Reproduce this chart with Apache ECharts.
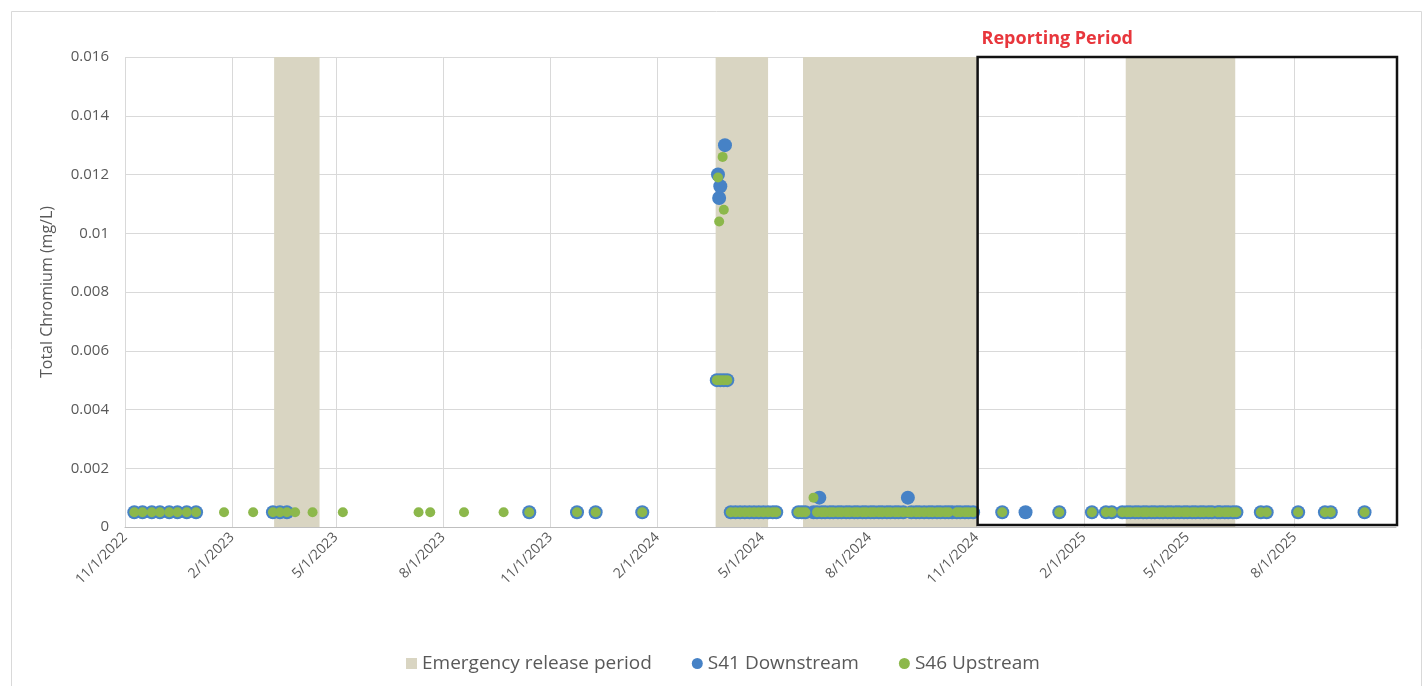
<!DOCTYPE html>
<html>
<head>
<meta charset="utf-8">
<script src="https://cdn.jsdelivr.net/npm/echarts@6/dist/echarts.min.js"></script>
<style>html,body{margin:0;padding:0;background:#fff;}#c{width:1422px;height:686px;}</style>
</head>
<body>
<div id="c"></div>
<script>
// ---------- DATA ----------
const xMin = '2022-11-01';
const xMax = '2025-10-27';
const xTicks = ['2022-11-01','2023-02-01','2023-05-01','2023-08-01','2023-11-01','2024-02-01','2024-05-01','2024-08-01','2024-11-01','2025-02-01','2025-05-01','2025-08-01'];
const yTicks = [0, 0.002, 0.004, 0.006, 0.008, 0.01, 0.012, 0.014, 0.016];
const emergencyPeriods = [
  ['2023-03-09','2023-04-17'],
  ['2024-03-22','2024-05-06'],
  ['2024-06-05','2024-11-01'],
  ['2025-03-09','2025-06-11']
];
const reportingPeriod = ['2024-11-01', '2025-10-27'];

const s41Downstream = [
  ['2022-11-09',0.0005],['2022-11-16',0.0005],['2022-11-24',0.0005],['2022-12-01',0.0005],
  ['2022-12-09',0.0005],['2022-12-16',0.0005],['2022-12-24',0.0005],['2023-01-01',0.0005],
  ['2023-03-08',0.0005],['2023-03-14',0.0005],['2023-03-20',0.0005],
  ['2023-10-14',0.0005],['2023-11-24',0.0005],['2023-12-10',0.0005],['2024-01-19',0.0005],
  ['2024-03-24',0.0120],['2024-03-25',0.0112],['2024-03-26',0.0116],['2024-03-30',0.0130],
  ['2024-03-23',0.005],['2024-03-26',0.005],['2024-03-29',0.005],['2024-04-01',0.005],
  ['2024-04-04',0.0005],['2024-04-08',0.0005],['2024-04-12',0.0005],['2024-04-16',0.0005],
  ['2024-04-20',0.0005],['2024-04-24',0.0005],['2024-04-28',0.0005],['2024-05-02',0.0005],
  ['2024-05-06',0.0005],['2024-05-10',0.0005],['2024-05-13',0.0005],
  ['2024-06-01',0.0005],['2024-06-04',0.0005],['2024-06-07',0.0005],
  ['2024-06-14',0.0005],['2024-06-17',0.0005],['2024-06-19',0.001],['2024-06-21',0.0005],
  ['2024-06-24',0.0005],['2024-06-28',0.0005],['2024-07-01',0.0005],['2024-07-05',0.0005],
  ['2024-07-08',0.0005],['2024-07-12',0.0005],['2024-07-15',0.0005],['2024-07-19',0.0005],
  ['2024-07-22',0.0005],['2024-07-26',0.0005],['2024-07-29',0.0005],['2024-08-02',0.0005],
  ['2024-08-05',0.0005],['2024-08-09',0.0005],['2024-08-12',0.0005],['2024-08-16',0.0005],
  ['2024-08-19',0.0005],['2024-08-23',0.0005],['2024-08-26',0.0005],['2024-08-30',0.0005],
  ['2024-09-03',0.001],['2024-09-06',0.0005],['2024-09-10',0.0005],['2024-09-13',0.0005],
  ['2024-09-17',0.0005],
  ['2024-09-21',0.0005],['2024-09-24',0.0005],['2024-09-28',0.0005],['2024-10-01',0.0005],
  ['2024-10-05',0.0005],['2024-10-08',0.0005],['2024-10-11',0.0005],
  ['2024-10-15',0.0005],['2024-10-18',0.0005],['2024-10-22',0.0005],['2024-10-25',0.0005],
  ['2024-10-29',0.0005],
  ['2024-11-23',0.0005],['2024-12-13',0.0005],['2025-01-11',0.0005],['2025-02-08',0.0005],
  ['2025-02-20',0.0005],['2025-02-25',0.0005],
  ['2025-03-06',0.0005],['2025-03-10',0.0005],['2025-03-13',0.0005],['2025-03-17',0.0005],
  ['2025-03-20',0.0005],['2025-03-24',0.0005],['2025-03-27',0.0005],['2025-03-31',0.0005],
  ['2025-04-03',0.0005],['2025-04-07',0.0005],['2025-04-10',0.0005],['2025-04-14',0.0005],
  ['2025-04-17',0.0005],['2025-04-21',0.0005],['2025-04-24',0.0005],['2025-04-28',0.0005],
  ['2025-05-01',0.0005],['2025-05-05',0.0005],['2025-05-08',0.0005],['2025-05-12',0.0005],
  ['2025-05-15',0.0005],['2025-05-19',0.0005],['2025-05-22',0.0005],['2025-05-27',0.0005],
  ['2025-05-29',0.0005],['2025-06-02',0.0005],['2025-06-05',0.0005],['2025-06-09',0.0005],
  ['2025-06-12',0.0005],
  ['2025-07-03',0.0005],['2025-07-08',0.0005],['2025-08-04',0.0005],['2025-08-27',0.0005],
  ['2025-09-01',0.0005],['2025-09-30',0.0005]
];

const s46Upstream = [
  ['2022-11-09',0.0005],['2022-11-16',0.0005],['2022-11-24',0.0005],['2022-12-01',0.0005],
  ['2022-12-09',0.0005],['2022-12-16',0.0005],['2022-12-24',0.0005],['2023-01-01',0.0005],
  ['2023-01-25',0.0005],['2023-02-19',0.0005],
  ['2023-03-08',0.0005],['2023-03-14',0.0005],['2023-03-20',0.0005],['2023-03-27',0.0005],
  ['2023-04-11',0.0005],['2023-05-07',0.0005],
  ['2023-07-11',0.0005],['2023-07-21',0.0005],['2023-08-19',0.0005],['2023-09-22',0.0005],
  ['2023-10-14',0.0005],['2023-11-24',0.0005],['2023-12-10',0.0005],['2024-01-19',0.0005],
  ['2024-03-24',0.0119],['2024-03-25',0.0104],['2024-03-28',0.0126],['2024-03-29',0.0108],
  ['2024-03-23',0.005],['2024-03-26',0.005],['2024-03-29',0.005],['2024-04-01',0.005],
  ['2024-04-04',0.0005],['2024-04-08',0.0005],['2024-04-12',0.0005],['2024-04-16',0.0005],
  ['2024-04-20',0.0005],['2024-04-24',0.0005],['2024-04-28',0.0005],['2024-05-02',0.0005],
  ['2024-05-06',0.0005],['2024-05-10',0.0005],['2024-05-13',0.0005],
  ['2024-06-01',0.0005],['2024-06-04',0.0005],['2024-06-07',0.0005],
  ['2024-06-14',0.001],['2024-06-17',0.0005],['2024-06-21',0.0005],
  ['2024-06-24',0.0005],['2024-06-28',0.0005],['2024-07-01',0.0005],['2024-07-05',0.0005],
  ['2024-07-08',0.0005],['2024-07-12',0.0005],['2024-07-15',0.0005],['2024-07-19',0.0005],
  ['2024-07-22',0.0005],['2024-07-26',0.0005],['2024-07-29',0.0005],['2024-08-02',0.0005],
  ['2024-08-05',0.0005],['2024-08-09',0.0005],['2024-08-12',0.0005],['2024-08-16',0.0005],
  ['2024-08-19',0.0005],['2024-08-23',0.0005],['2024-08-26',0.0005],['2024-08-30',0.0005],
  ['2024-09-03',0.0005],['2024-09-06',0.0005],['2024-09-10',0.0005],['2024-09-13',0.0005],
  ['2024-09-17',0.0005],
  ['2024-09-21',0.0005],['2024-09-24',0.0005],['2024-09-28',0.0005],['2024-10-01',0.0005],
  ['2024-10-05',0.0005],['2024-10-08',0.0005],
  ['2024-10-15',0.0005],['2024-10-18',0.0005],['2024-10-22',0.0005],['2024-10-25',0.0005],
  ['2024-10-29',0.0005],
  ['2024-11-23',0.0005],['2025-01-11',0.0005],['2025-02-08',0.0005],
  ['2025-02-20',0.0005],['2025-02-25',0.0005],
  ['2025-03-06',0.0005],['2025-03-10',0.0005],['2025-03-13',0.0005],['2025-03-17',0.0005],
  ['2025-03-20',0.0005],['2025-03-24',0.0005],['2025-03-27',0.0005],['2025-03-31',0.0005],
  ['2025-04-03',0.0005],['2025-04-07',0.0005],['2025-04-10',0.0005],['2025-04-14',0.0005],
  ['2025-04-17',0.0005],['2025-04-21',0.0005],['2025-04-24',0.0005],['2025-04-28',0.0005],
  ['2025-05-01',0.0005],['2025-05-05',0.0005],['2025-05-08',0.0005],['2025-05-12',0.0005],
  ['2025-05-15',0.0005],['2025-05-19',0.0005],['2025-05-22',0.0005],['2025-05-27',0.0005],
  ['2025-05-29',0.0005],['2025-06-02',0.0005],['2025-06-05',0.0005],['2025-06-09',0.0005],
  ['2025-06-12',0.0005],
  ['2025-07-03',0.0005],['2025-07-08',0.0005],['2025-08-04',0.0005],['2025-08-27',0.0005],
  ['2025-09-01',0.0005],['2025-09-30',0.0005]
];

// ---------- HELPERS ----------
function d(s) { const p = s.split('-').map(Number); return Date.UTC(p[0], p[1] - 1, p[2]); }
function fmtDate(v) { const t = new Date(v); return (t.getUTCMonth() + 1) + '/' + t.getUTCDate() + '/' + t.getUTCFullYear(); }
const yMax = yTicks[yTicks.length - 1];
const FONT = '"Open Sans", "Liberation Sans", sans-serif';
const GREY = '#595959';
const BEIGE = '#d9d5c2';
const BLUE = '#4682c6';
const GREEN = '#8cb84b';

const chart = echarts.init(document.getElementById('c'), null, { renderer: 'canvas' });
chart.setOption({
  animation: false,
  backgroundColor: '#ffffff',
  textStyle: { fontFamily: FONT },
  graphic: [{
    type: 'rect', left: 9, top: 9, shape: { width: 1410, height: 680 },
    style: { fill: 'none', stroke: '#d9d9d9', lineWidth: 1 }, silent: true
  }],
  grid: { left: 125, right: 26, top: 57, bottom: 159, containLabel: false },
  legend: {
    left: 401, top: 649, selectedMode: false,
    itemWidth: 11, itemHeight: 11, itemGap: 40,
    textStyle: { color: GREY, fontSize: 19, fontFamily: FONT },
    data: [
      { name: 'Emergency release period', icon: 'rect' },
      { name: 'S41 Downstream', icon: 'circle' },
      { name: 'S46 Upstream', icon: 'circle' }
    ]
  },
  xAxis: {
    type: 'value',
    min: d(xMin), max: d(xMax),
    axisLine: { show: true, lineStyle: { color: '#bfbfbf', width: 1 } },
    axisTick: { show: false, customValues: xTicks.map(d) },
    axisLabel: {
      customValues: xTicks.map(d), rotate: 45, color: GREY, fontSize: 14, fontFamily: FONT,
      margin: 8, formatter: fmtDate, hideOverlap: false
    },
    splitLine: { show: true, lineStyle: { color: '#d9d9d9', width: 1 } }
  },
  yAxis: {
    type: 'value', min: 0, max: yMax, interval: 0.002,
    name: 'Total Chromium (mg/L)', nameLocation: 'middle', nameGap: 70,
    nameTextStyle: { color: GREY, fontSize: 16, fontFamily: FONT },
    axisLine: { show: false }, axisTick: { show: false },
    axisLabel: { color: GREY, fontSize: 15, fontFamily: FONT, margin: 16,
      formatter: v => String(+v.toFixed(4)) },
    splitLine: { show: true, lineStyle: { color: '#d9d9d9', width: 1 } }
  },
  series: [
    {
      name: 'Emergency release period', type: 'custom', z: 1,
      itemStyle: { color: BEIGE },
      encode: { x: [0, 1] },
      data: emergencyPeriods.map(p => [d(p[0]), d(p[1])]),
      renderItem: function (params, api) {
        const a = api.coord([api.value(0), yMax]);
        const b = api.coord([api.value(1), 0]);
        return { type: 'rect', shape: { x: a[0], y: a[1], width: b[0] - a[0], height: b[1] - a[1] },
                 style: { fill: BEIGE } };
      }
    },
    {
      name: 'S41 Downstream', type: 'scatter', z: 3,
      symbol: 'circle', symbolSize: 14,
      itemStyle: { color: BLUE, opacity: 1 },
      data: s41Downstream.map(p => [d(p[0]), p[1]])
    },
    {
      name: 'S46 Upstream', type: 'scatter', z: 4,
      symbol: 'circle', symbolSize: 10,
      itemStyle: { color: GREEN, opacity: 1 },
      data: s46Upstream.map(p => [d(p[0]), p[1]])
    },
    {
      name: 'Reporting Period', type: 'custom', z: 5, clip: false,
      encode: { x: [0, 1] },
      data: [[d(reportingPeriod[0]), d(reportingPeriod[1])]],
      renderItem: function (params, api) {
        const a = api.coord([api.value(0), yMax]);
        const b = api.coord([api.value(1), 0]);
        return { type: 'group', children: [
          { type: 'rect', shape: { x: a[0] + 1, y: a[1], width: b[0] - a[0], height: b[1] - a[1] - 2 },
            style: { fill: 'none', stroke: '#111111', lineWidth: 2.5 } },
          { type: 'text', x: a[0] + 5, y: a[1] - 9,
            style: { text: 'Reporting Period', fill: '#e8363c', font: 'bold 18px ' + FONT,
                     textAlign: 'left', textVerticalAlign: 'bottom' } }
        ] };
      }
    }
  ]
});
</script>
</body>
</html>
